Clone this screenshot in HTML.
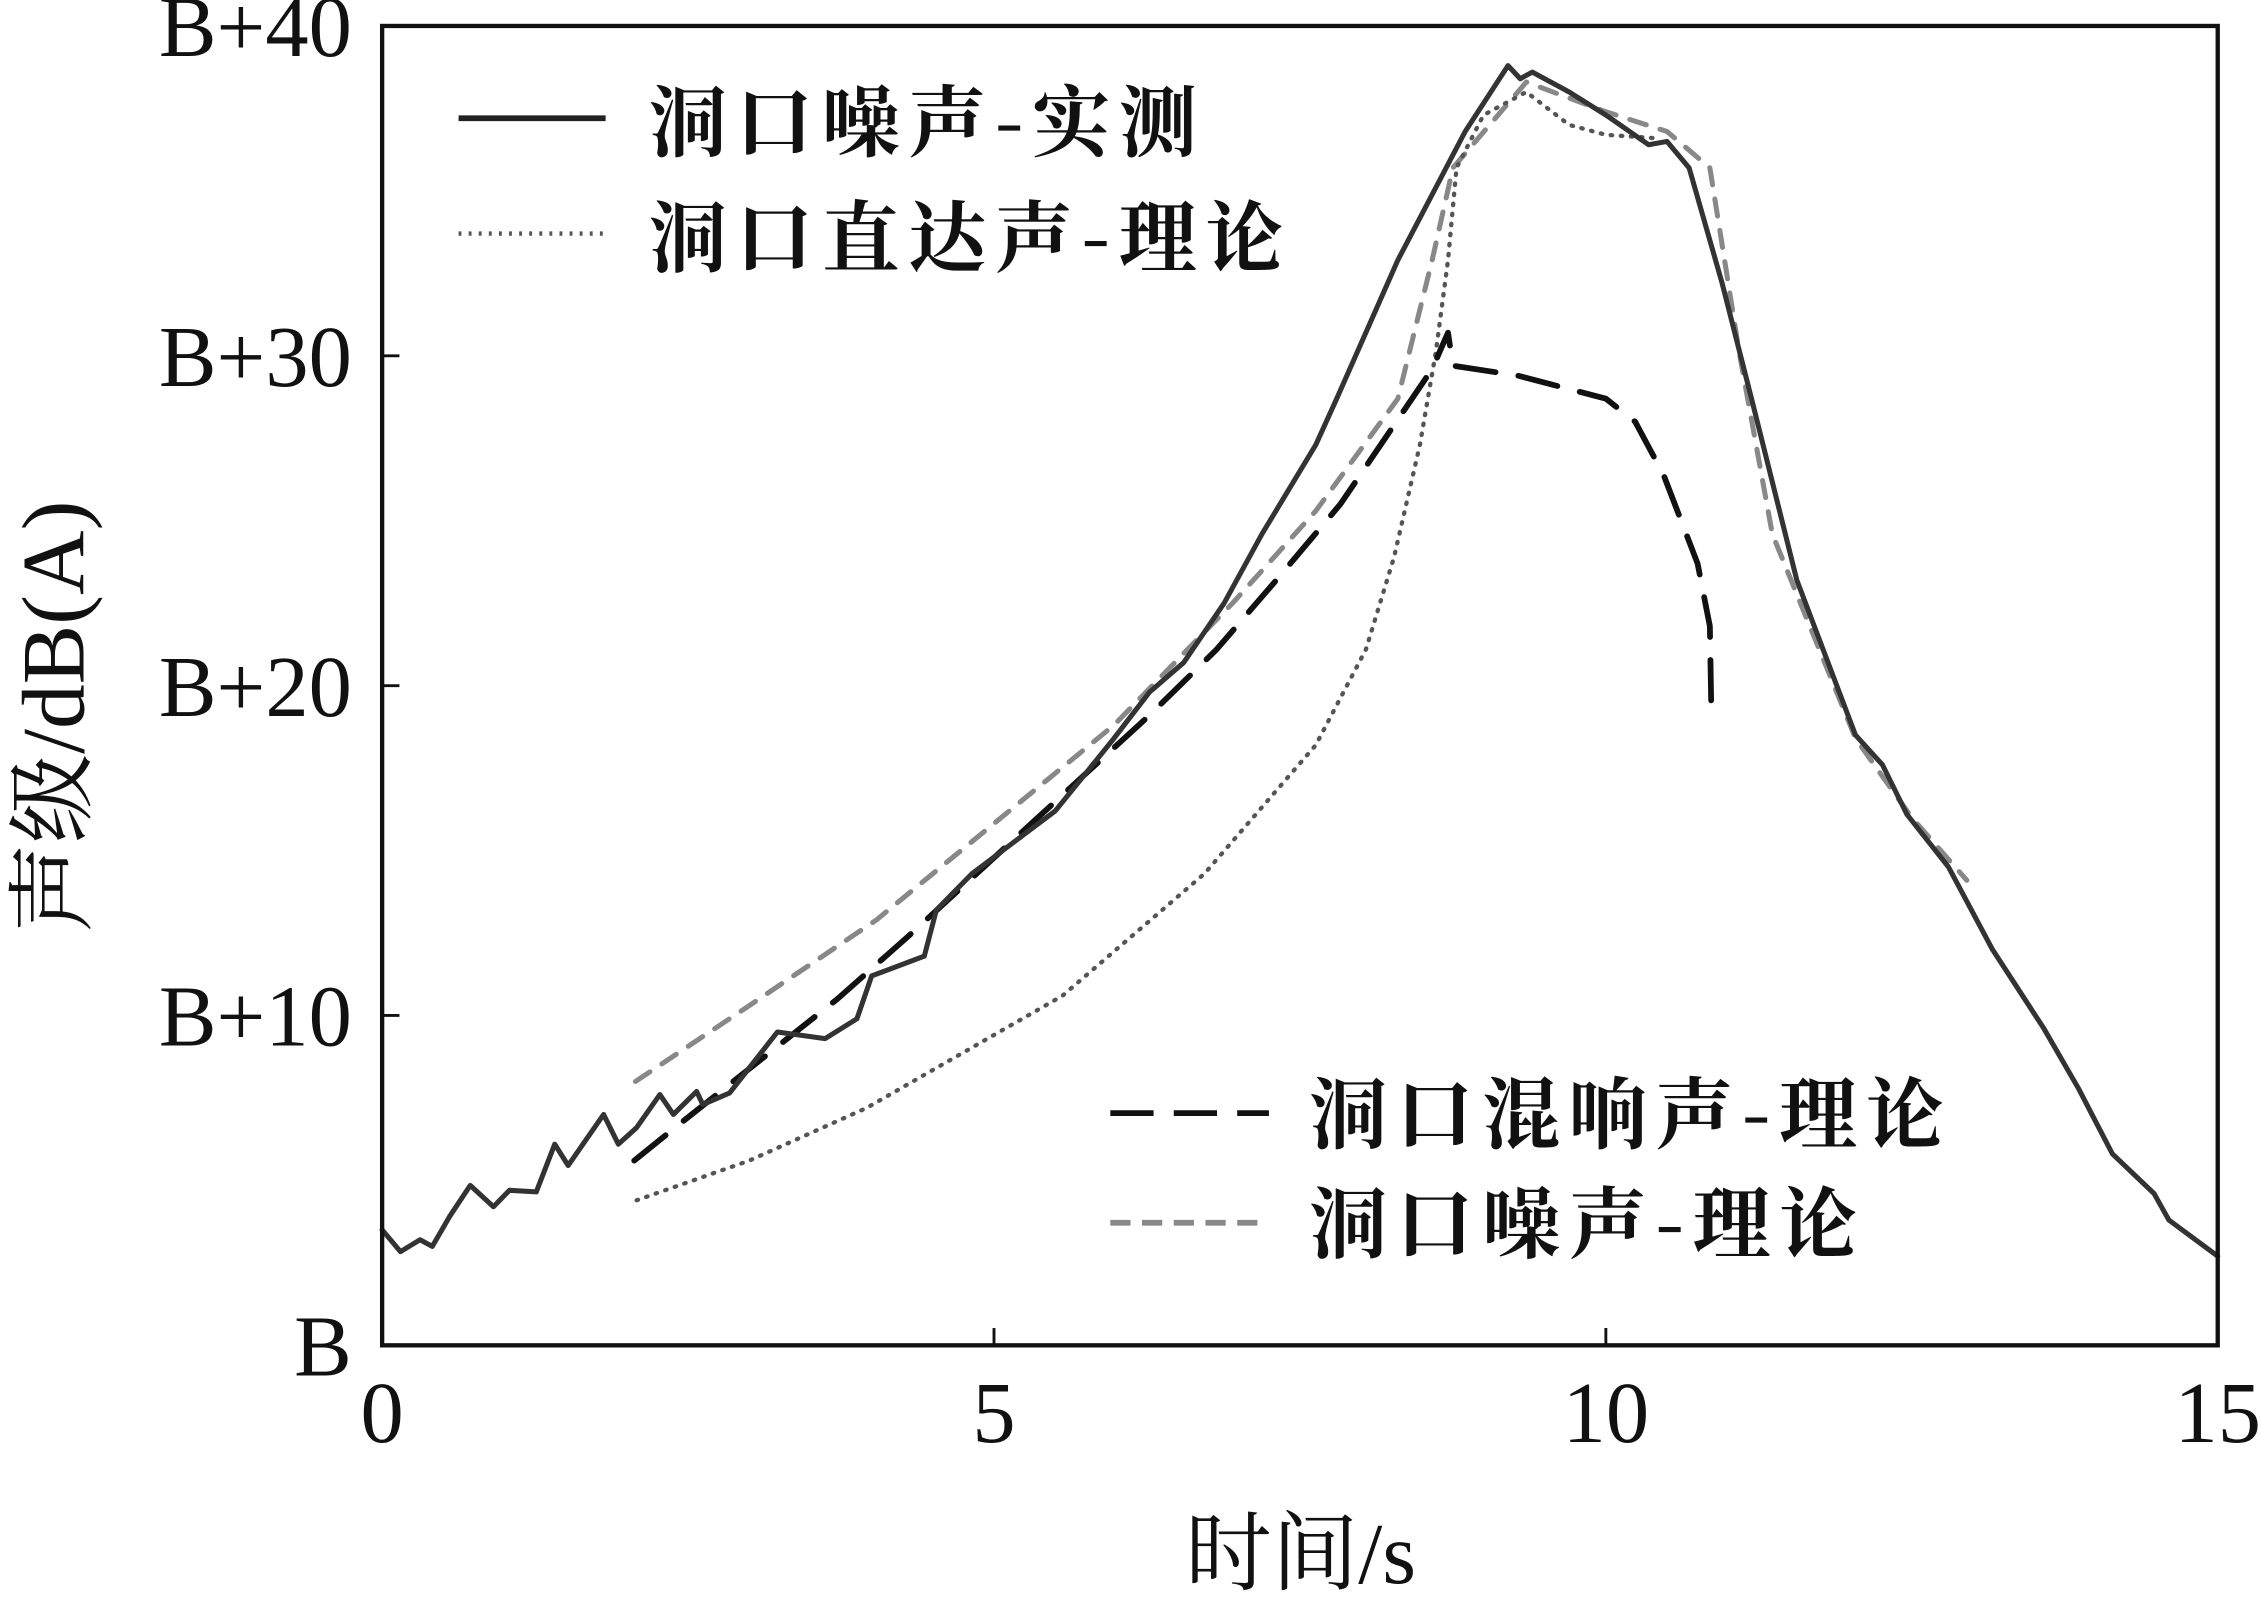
<!DOCTYPE html>
<html><head><meta charset="utf-8"><style>
html,body{margin:0;padding:0;background:#fff;}
svg{display:block;}
text{font-family:"Liberation Serif","Noto Serif CJK SC","Noto Sans CJK SC",serif;fill:#111;}
.cjk{font-family:"Noto Serif CJK SC","Liberation Serif",serif;font-weight:bold;}
</style></head><body>
<svg id="chart" width="2261" height="1603" viewBox="0 0 1568 1111.7" xmlns="http://www.w3.org/2000/svg">
<g id="plot"></g>
<rect x="265" y="18" width="1273" height="915" fill="none" stroke="#111" stroke-width="3"/>
<g>
<line x1="318" y1="82" x2="420" y2="82" stroke="#222" stroke-width="4"/>
<text class="cjk" x="450" y="104" font-size="54" letter-spacing="6">洞口噪声-实测</text>
<line x1="318" y1="162" x2="420" y2="162" stroke="#555" stroke-width="3" stroke-dasharray="2,5"/>
<text class="cjk" x="450" y="184" font-size="54" letter-spacing="6">洞口直达声-理论</text>
</g>
<g>
<line x1="770" y1="772" x2="880" y2="772" stroke="#111" stroke-width="4" stroke-dasharray="30,14"/>
<text class="cjk" x="908" y="792" font-size="54" letter-spacing="6">洞口混响声-理论</text>
<line x1="770" y1="848" x2="880" y2="848" stroke="#888" stroke-width="4" stroke-dasharray="14,8"/>
<text class="cjk" x="908" y="868" font-size="54" letter-spacing="6">洞口噪声-理论</text>
</g>
<text transform="translate(58,497) rotate(-90)" text-anchor="middle" font-size="62">声级/dB(A)</text>
<text x="902" y="1098" text-anchor="middle" font-size="60">时间/s</text>
<script>
const xTicks=[0,5,10,15];
const xTickLabels=["0","5","10","15"];
const yTicks=[0,10,20,30,40];
const yTickLabels=["B","B+10","B+20","B+30","B+40"];
const measT=[0,0.15,0.31,0.41,0.55,0.72,0.91,1.04,1.26,1.41,1.52,1.81,1.93,2.08,2.27,2.38,2.57,2.62,2.84,3.23,3.62,3.88,4.0,4.43,4.53,4.82,5.5,5.72,5.98,6.27,6.55,6.88,7.19,7.63,7.8,8.3,8.85,9.2,9.3,9.4,9.7,10.0,10.35,10.5,10.68,10.95,11.19,11.56,12.04,12.26,12.46,12.8,13.16,13.58,13.86,14.14,14.48,14.6,15];
const measV=[3.5,2.84,3.2,3.0,3.9,4.85,4.2,4.7,4.65,6.1,5.45,7.0,6.1,6.6,7.6,7.0,7.7,7.3,7.65,9.5,9.3,9.9,11.2,11.8,13.2,14.3,16.2,17.2,18.4,19.8,20.7,22.5,24.6,27.3,28.7,32.9,36.8,38.8,38.4,38.6,38.0,37.3,36.4,36.5,35.7,32.2,28.7,23.2,18.5,17.6,16.1,14.5,12.0,9.6,7.8,5.8,4.6,3.8,2.7];
const directT=[2.08,3,3.96,5.56,6.72,7.63,8.04,8.27,8.48,8.61,8.71,8.78,9.0,9.35,9.7,10,10.4];
const directV=[4.4,5.6,7.2,10.6,14.3,18.2,21.1,23.9,27.3,30.1,32.9,35.7,37.3,38.0,37.0,36.7,36.6];
const reverbT=[2.06,2.46,3.72,4.3,6.27,6.82,7.33,7.83,8.27,8.58,8.71,8.75,9.28,10,10.24,10.47,10.75,10.85,10.86];
const reverbV=[5.6,6.8,10.5,12.4,19.1,21.1,23.3,25.5,27.9,29.6,30.7,29.7,29.4,28.7,28.0,26.4,23.7,21.8,19.5];
const theoryT=[2.07,3,4.04,5.98,6.95,7.63,8.3,8.58,8.75,9.35,10,10.5,10.85,11.09,11.36,12.04,12.5,12.95];
const theoryV=[8.0,10.3,12.9,18.8,22.5,25.3,28.7,32.9,35.7,38.3,37.4,36.8,35.7,30.1,24.6,18.4,16.0,14.1];
const X=t=>265+t*(1273/15);
const Y=v=>933-v*(915/40);
const NS="http://www.w3.org/2000/svg";
const svg=document.getElementById('chart');
const plot=document.getElementById('plot');
function mk(tag,attrs,parent){const e=document.createElementNS(NS,tag);for(const k in attrs)e.setAttribute(k,attrs[k]);(parent||svg).appendChild(e);return e;}
xTicks.forEach((t,i)=>{
 const l=mk('line',{x1:X(t),x2:X(t),y1:933,y2:921,stroke:'#111','stroke-width':2});
 
 
 const tx=mk('text',{x:X(t),y:1000,'text-anchor':'middle','font-size':60});
 tx.textContent=xTickLabels[i];
 
 
});
yTicks.forEach((v,i)=>{
 const l=mk('line',{x1:265,x2:277,y1:Y(v),y2:Y(v),stroke:'#111','stroke-width':2});
 
 
 const tx=mk('text',{x:244,y:Y(v)+21,'text-anchor':'end','font-size':60});
 tx.textContent=yTickLabels[i];
 
 
});
function line(T,V,attrs,name){
 const d=T.map((t,i)=>(i?'L':'M')+X(t).toFixed(1)+','+Y(V[i]).toFixed(1)).join(' ');
 const p=mk('path',Object.assign({d:d,fill:'none','stroke-linejoin':'round','stroke-linecap':'round'},attrs),plot);
 
 
}
line(theoryT,theoryV,{stroke:'#888','stroke-width':3.5,'stroke-dasharray':'12,10'},'theory-noise-line');
line(directT,directV,{stroke:'#555','stroke-width':3,'stroke-dasharray':'1,6'},'direct-sound-line');
line(reverbT,reverbV,{stroke:'#111','stroke-width':4,'stroke-dasharray':'28,16'},'reverb-sound-line');
line(measT,measV,{stroke:'#333','stroke-width':3.5},'measured-noise-line');
</script>
</svg>
</body></html>
